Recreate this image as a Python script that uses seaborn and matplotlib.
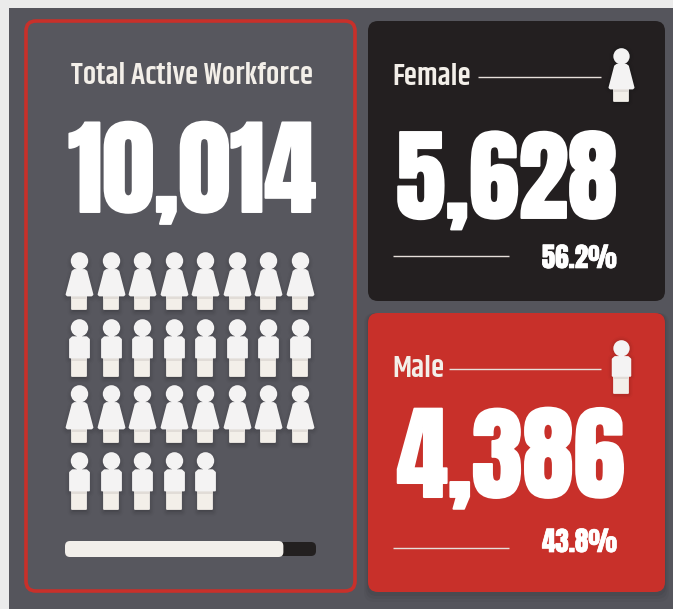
import numpy as np
import pandas as pd
import matplotlib.pyplot as plt
import matplotlib.patheffects as pe
import seaborn as sns
from matplotlib.patches import FancyBboxPatch, Rectangle
from matplotlib.path import Path

total_label = "Total Active Workforce"
total_value = 10014
groups = ["Female", "Male"]
group_values = [5628, 4386]
group_shares = ["56.2%", "43.8%"]
icon_rows = ["Female", "Male", "Female", "Male"]
icon_counts = [8, 8, 8, 5]
bar_parts = ["track", "fill"]
bar_values = [100, 87]

BG = "#55555c"
DARK = "#231f20"
RED = "#c8302a"
CREAM = "#f3efe9"
WHITE = "#f4f3f3"
NUM = ["Anton", "Liberation Sans", "DejaVu Sans"]
LBL = ["Khand", "Rajdhani", "Roboto", "DejaVu Sans"]

sns.set_theme(style="white")
W, H = 673, 609


def icon_paths(gender):
    # px units, y up, icon centred on 0
    head = Path.circle((0, 20.6), 7.8)
    if gender == "Female":
        body = Path([(-5, 11.5), (5, 11.5), (7, 10), (13, -13), (12, -14), (-12, -14), (-13, -13), (-7, 10), (-5, 11.5)], closed=True)
        leg_top = -14
    else:
        body = Path([(-7, 11.3), (7, 11.3), (9.5, 9), (9.5, -9), (-9.5, -9), (-9.5, 9), (-7, 11.3)], closed=True)
        leg_top = -9
    legs = Path([(-7, leg_top), (7, leg_top), (7, -28), (-7, -28), (-7, leg_top)], closed=True)
    shade = Path([(-7.5, leg_top - 1), (7.5, leg_top - 1), (7.5, leg_top - 4), (-7.5, leg_top - 4), (-7.5, leg_top - 1)], closed=True)
    return Path.make_compound_path(head, body), legs, shade


def marker_size(path, scale=1.0):
    # matplotlib rescales custom markers by their largest coordinate
    return (2 * np.abs(path.vertices).max() * 0.72 * scale) ** 2


def draw_icons(ax, df, gender, scale=1.0, shadow=0.03):
    top, legs, shade = icon_paths(gender)
    whole = Path.make_compound_path(top, legs)
    sub = df[df["gender"] == gender]
    for lw, a in [(7, 0.02), (5, 0.03), (3, 0.04)]:
        sns.scatterplot(data=sub.assign(row=sub["row"] + shadow), x="col", y="row", ax=ax, marker=whole,
                        s=marker_size(whole, scale), color="black", alpha=a, edgecolor="black",
                        linewidth=lw, legend=False, clip_on=False)
    sns.scatterplot(data=sub, x="col", y="row", ax=ax, marker=legs, s=marker_size(legs, scale),
                    color=CREAM, edgecolor=CREAM, linewidth=1.3, legend=False, clip_on=False)
    sns.scatterplot(data=sub, x="col", y="row", ax=ax, marker=shade, s=marker_size(shade, scale),
                    color="#d5d0cb", alpha=0.6, linewidth=0, legend=False, clip_on=False)
    sns.scatterplot(data=sub, x="col", y="row", ax=ax, marker=top, s=marker_size(top, scale),
                    color=WHITE, edgecolor=WHITE, linewidth=1.3, legend=False, clip_on=False)


def inset(x0, y0, x1, y1):
    a = fig.add_axes([x0 / W, 1 - y1 / H, (x1 - x0) / W, (y1 - y0) / H])
    a.patch.set_alpha(0)
    a.axis("off")
    return a


def card(x0, y0, x1, y1, fc, ec="none", lw=0, radius=10):
    p = FancyBboxPatch((x0, y0), x1 - x0, y1 - y0, boxstyle=f"round,pad=0,rounding_size={radius}",
                       fc=fc, ec=ec, lw=lw)
    ax.add_patch(p)
    return p


def big_text(x, y, s, size, stroke, ha="center"):
    ax.text(x, y, s, family=NUM, fontsize=size, color="white", ha=ha, va="baseline",
            path_effects=[pe.withStroke(linewidth=stroke, foreground="white")])


fig = plt.figure(figsize=(W / 100, H / 100), dpi=100, facecolor="#ebebeb")
ax = fig.add_axes([0, 0, 1, 1])
ax.set_xlim(0, W)
ax.set_ylim(H, 0)
ax.axis("off")

ax.add_patch(Rectangle((9, 8), W - 9, H - 8, fc=BG, ec="none"))
for off, a in [(8, 0.03), (5, 0.04), (2, 0.05)]:
    card(368 - off / 2, 313, 665 + off / 2, 592 + off + 2, "black").set_alpha(a)
card(26, 21, 355, 591, "#57575e", RED, 2.6)
card(368, 21, 665, 301, DARK)
card(368, 313, 665, 592, RED)

ax.text(192, 84, total_label, family=LBL, weight=600, fontsize=21.6, color=CREAM, ha="center", va="baseline")
big_text(192, 212, f"{total_value:,}", 75, 1.4)

# left pictogram, one icon per unit
rows = [dict(col=c, row=r, gender=g) for r, (g, n) in enumerate(zip(icon_rows, icon_counts)) for c in range(n)]
icons = pd.DataFrame(rows)
ax_icons = inset(63.2, 247.7, 315.8, 514.3)
for g in groups:
    draw_icons(ax_icons, icons, g)
ax_icons.set_xlim(-0.5, 7.5)
ax_icons.set_ylim(3.5, -0.5)
ax_icons.axis("off")

# progress bar, bars come from seaborn then get rounded corners in pixel space
ax_bar = inset(65, 541, 316, 557)
bar_df = pd.DataFrame({"part": bar_parts, "value": bar_values, "y": [0, 0]})
sns.barplot(data=bar_df, x="value", y="y", hue="part", palette=[DARK, CREAM], orient="y", ax=ax_bar,
            dodge=False, legend=False, width=1)
ax_bar.set_xlim(0, 100)
ax_bar.set_ylim(0.5, -0.5)
ax_bar.axis("off")
to_px = ax_bar.transData + ax.transData.inverted()
for bar, inner in zip(list(ax_bar.patches)[:2], [1, 0]):
    (x0, y0), (x1, y1) = to_px.transform([(bar.get_x(), bar.get_y()), (bar.get_x() + bar.get_width(), bar.get_y() + bar.get_height())])
    y0, y1 = min(y0, y1), max(y0, y1)
    card(x0, y0 + inner, x1, y1 - inner, bar.get_facecolor(), radius=5)
    bar.set_visible(False)

# right cards
label_base = [85, 377]
num_base = [218, 497]
num_x = [506.5, 510.5]
num_size = [72, 74]
pct_base = [268, 552]
line_y = [77, 369]
line_x0 = [478, 449]
low_y = [256, 548]
icon_y = [75, 367]
for i, g in enumerate(groups):
    ax.text(392, label_base[i], g, family=LBL, weight=600, fontsize=21.6, color=CREAM, ha="left", va="baseline")
    big_text(num_x[i], num_base[i], f"{group_values[i]:,}", num_size[i], 1.4)
    big_text(617, pct_base[i], group_shares[i], 19.5, 0.5, ha="right")
    ax.plot([line_x0[i], 601], [line_y[i], line_y[i]], color="#e6dfda", lw=1.0, solid_capstyle="butt")
    ax.plot([393, 509], [low_y[i], low_y[i]], color="#e6dfda", lw=1.0, solid_capstyle="butt")
    one = inset(600, icon_y[i] - 40, 642, icon_y[i] + 40)
    draw_icons(one, pd.DataFrame({"col": [0], "row": [0], "gender": [g]}), g, scale=0.93, shadow=0.01)
    one.set_xlim(-1, 1)
    one.set_ylim(1, -1)
    one.axis("off")

fig.savefig("out.png", dpi=100, facecolor=fig.get_facecolor())
